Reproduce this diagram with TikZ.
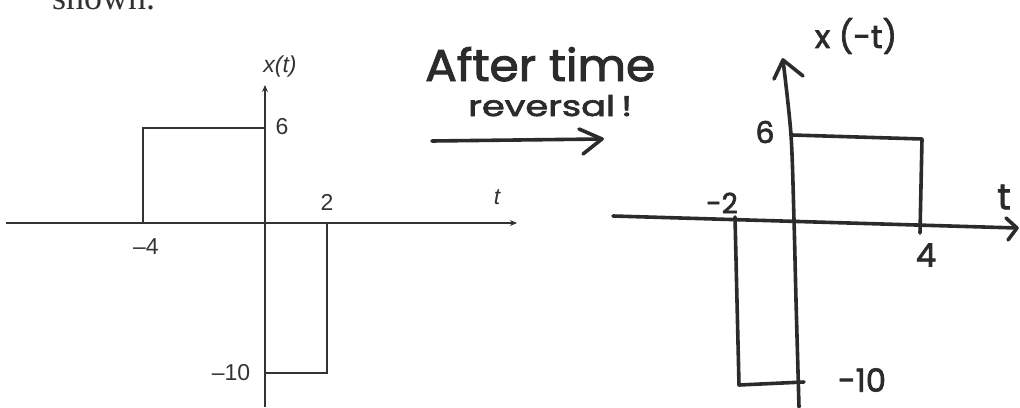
\documentclass[tikz,border=0pt]{standalone}
\usepackage{fontspec}
\usepackage{graphicx}
\setmainfont{Liberation Sans}
\newfontfamily\serifface{Liberation Serif}
\newfontfamily\handfont[FakeBold=2.2]{Poppins}
\usetikzlibrary{arrows.meta}
\definecolor{ink}{HTML}{333333}
\definecolor{pen}{HTML}{2B2B2B}
\tikzset{
  printline/.style={line width=1.7pt, draw=ink},
  printarrow/.style={printline, -{Stealth[length=7pt,width=6pt]}},
  printlbl/.style={inner sep=0pt, text=ink, font=\fontsize{23}{23}\selectfont},
  penline/.style={line width=3.6pt, draw=pen, line cap=round, line join=round},
  penlbl/.style={inner sep=0pt, text=pen, font=\handfont\fontsize{#1}{#1}\selectfont},
  penlbl/.default=32
}
\begin{document}
\begin{tikzpicture}[x=1pt,y=-1pt]
\useasboundingbox (0,0) rectangle (1020,407);
% cut-off text at top
\node[anchor=base west, inner sep=0pt, text=ink, font=\serifface\fontsize{36}{36}\selectfont] (shown) at (52,9) {shown.};

% ---------- left (printed) graph ----------
\coordinate (Lxl) at (6,223);
\coordinate (Lxr) at (517,223);
\coordinate (Lyb) at (265,407);
\coordinate (Lyt) at (265,85);
\coordinate (Lm4) at (143,223);
\coordinate (Lm4t) at (143,128);
\coordinate (L6) at (265,128);
\coordinate (L2) at (327,223);
\coordinate (L2b) at (327,373);
\coordinate (Lm10) at (265,373);
\draw[printarrow] (Lxl) -- (Lxr);
\draw[printarrow] (Lyb) -- (Lyt);
\draw[printline] (Lm4) -- (Lm4t) -- (L6);
\draw[printline] (L2) -- (L2b) -- (Lm10);
\node[printlbl] (lx) at (280,67) {\itshape x(t)};
\node[printlbl] (l6) at (282,127) {6};
\node[printlbl] (l2) at (327,202) {2};
\node[printlbl] (lm4) at (146,247) {\textendash4};
\node[printlbl] (lt) at (497,197) {\itshape t};
\node[printlbl] (lm10) at (231,373) {\textendash10};

% ---------- middle handwritten note ----------
\node[penlbl, anchor=base west] (after) at (425,81) {\resizebox{230pt}{34pt}{After time}};
\node[penlbl, anchor=base west] (rev) at (468,116) {\resizebox{164pt}{21pt}{reversal\,!}};
\coordinate (Ma) at (432,141);
\coordinate (Mb) at (602,139);
\coordinate (Mh1) at (579,129);
\coordinate (Mh2) at (583,154);
\draw[penline] (Ma) -- (Mb);
\draw[penline] (Mh1) -- (Mb) -- (Mh2);

% ---------- right (handwritten) graph ----------
\coordinate (Rvb) at (799,407);
\coordinate (Rvt) at (783,60);
\draw[penline] plot[smooth] coordinates {(Rvb) (796,300) (794,220) (791,135) (Rvt)};
\coordinate (Rah1) at (774,79);
\coordinate (Rah2) at (803,76);
\draw[penline] (Rah1) -- (Rvt) -- (Rah2);
\coordinate (Rxl) at (613,216);
\coordinate (Rxr) at (1017,228);
\draw[penline] (Rxl) -- (Rxr);
\coordinate (Rxh1) at (1006,218);
\coordinate (Rxh2) at (1008,240);
\draw[penline] (Rxh1) -- (Rxr) -- (Rxh2);
\coordinate (R6) at (792,135);
\coordinate (R6r) at (922,139);
\coordinate (R4) at (920,233);
\draw[penline] (R6) -- (R6r) -- (R4);
\coordinate (Rm2) at (735,217);
\coordinate (Rm2b) at (739,385);
\coordinate (Rm10) at (804,382);
\draw[penline] (Rm2) -- (Rm2b) -- (Rm10);
\node[penlbl=32] (rx) at (856,36) {x (-t)};
\node[penlbl=30] (r6) at (765,132) {6};
\node[penlbl=28] (rm2) at (722,203) {-2};
\node[penlbl=32] (r4) at (926,255) {4};
\node[penlbl=32] (rm10) at (862,380) {-10};
\node[penlbl=36] (rt) at (1004,197) {t};
\end{tikzpicture}
\end{document}
